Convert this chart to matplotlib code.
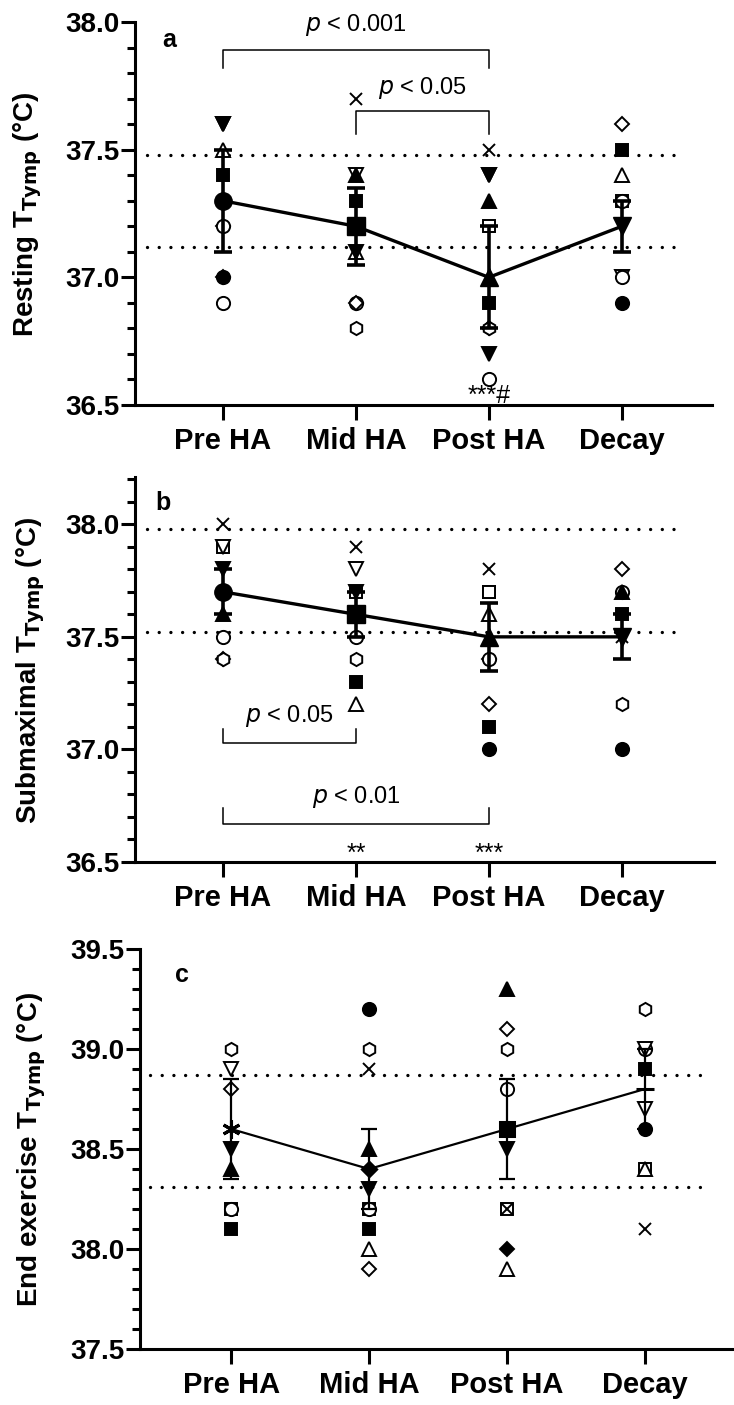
import numpy as np
import matplotlib.pyplot as plt
from matplotlib.ticker import MultipleLocator

plt.rcParams['font.family'] = ['Liberation Sans', 'DejaVu Sans']

groups = ["Pre HA", "Mid HA", "Post HA", "Decay"]

# ---- panel a: resting T_tymp ----
a_pts = [
    [37.6, 37.6, 37.5, 37.4, 37.2, 37.2, 37.0, 37.0, 36.9],
    [37.7, 37.4, 37.4, 37.3, 37.1, 37.1, 36.9, 36.9, 36.8],
    [37.5, 37.4, 37.4, 37.3, 37.2, 36.9, 36.8, 36.8, 36.7, 36.6],
    [37.6, 37.5, 37.4, 37.3, 37.3, 37.0, 37.0, 36.9],
]
a_mks = [
    ['ov', 'fv', 'o^', 'fs', 'oD', 'oo', 'fo', 'fD', 'oo'],
    ['x', 'ov', 'f^', 'fs', 'o^', 'fv', 'oo', 'oD', 'oh'],
    ['x', 'ov', 'fv', 'f^', 'os', 'fs', 'fD', 'oh', 'fv', 'oo'],
    ['oD', 'fs', 'o^', 'os', 'oo', 'ov', 'oo', 'fo'],
]
a_mean = [37.3, 37.2, 37.0, 37.2]
a_lo = [37.1, 37.05, 36.8, 37.1]
a_hi = [37.5, 37.35, 37.2, 37.3]
a_ref = [37.48, 37.12]

# ---- panel b: submaximal T_tymp ----
b_pts = [
    [38.0, 37.9, 37.9, 37.8, 37.6, 37.5, 37.4, 37.4],
    [37.9, 37.8, 37.7, 37.7, 37.5, 37.4, 37.3, 37.2],
    [37.8, 37.7, 37.7, 37.6, 37.4, 37.4, 37.2, 37.1, 37.0],
    [37.8, 37.7, 37.7, 37.6, 37.5, 37.2, 37.0],
]
b_mks = [
    ['x', 'os', 'ov', 'fv', 'f^', 'oo', 'oD', 'oh'],
    ['x', 'ov', 'os', 'fv', 'oo', 'oh', 'fs', 'o^'],
    ['x', 'fs', 'os', 'o^', 'oD', 'oo', 'oD', 'fs', 'fo'],
    ['oD', 'oo', 'f^', 'fs', 'x', 'oh', 'fo'],
]
b_mean = [37.7, 37.6, 37.5, 37.5]
b_lo = [37.6, 37.5, 37.35, 37.4]
b_hi = [37.8, 37.7, 37.65, 37.6]
b_ref = [37.98, 37.52]

# ---- panel c: end exercise T_tymp ----
c_pts = [
    [39.0, 38.9, 38.8, 38.5, 38.4, 38.2, 38.2, 38.1],
    [39.2, 39.0, 38.9, 38.5, 38.3, 38.2, 38.2, 38.1, 38.0, 37.9],
    [39.3, 39.1, 39.0, 38.8, 38.5, 38.2, 38.2, 38.0, 37.9],
    [39.2, 39.0, 39.0, 38.9, 38.7, 38.6, 38.4, 38.4, 38.1],
]
c_mks = [
    ['oh', 'ov', 'oD', 'fv', 'f^', 'os', 'oo', 'fs'],
    ['fo', 'oh', 'x', 'f^', 'fv', 'os', 'oo', 'fs', 'o^', 'oD'],
    ['f^', 'oD', 'oh', 'oo', 'fv', 'os', 'x', 'fD', 'o^'],
    ['oh', 'oo', 'ov', 'fs', 'ov', 'fo', 'os', 'o^', 'x'],
]
c_mean = [38.6, 38.4, 38.6, 38.8]
c_lo = [38.35, 38.2, 38.35, 38.6]
c_hi = [38.85, 38.6, 38.85, 39.0]
c_ref = [38.87, 38.31]

STYLE = {
    'fo': ('o', 9.5, True), 'fs': ('s', 8.5, True), 'f^': ('^', 9.5, True),
    'fv': ('v', 9.5, True), 'fD': ('D', 7, True),
    'oo': ('o', 9.5, False), 'os': ('s', 8.5, False), 'o^': ('^', 9.5, False),
    'ov': ('v', 9.5, False), 'oD': ('D', 7, False), 'oh': ('h', 9.5, False),
    'x': ('x', 8.5, False),
}


def draw_points(ax, pts, mks):
    for i, (vals, mk) in enumerate(zip(pts, mks)):
        for v, m in zip(vals, mk):
            shape, size, filled = STYLE[m]
            ax.plot(i, v, marker=shape, ms=size, mec='k', mew=1.4,
                    mfc='k' if filled else 'white', ls='none', zorder=3)


def style_axes(ax, ylo, yhi, xhi):
    ax.set_xlim(-0.66, xhi)
    ax.set_ylim(ylo, yhi)
    for s in ['top', 'right']:
        ax.spines[s].set_visible(False)
    for s in ['left', 'bottom']:
        ax.spines[s].set_linewidth(2.2)
    ax.set_xticks(range(4))
    ax.set_xticklabels(groups, fontsize=21, fontweight='bold')
    ax.yaxis.set_major_locator(MultipleLocator(0.5))
    ax.yaxis.set_minor_locator(MultipleLocator(0.1))
    ax.yaxis.set_major_formatter(plt.FormatStrFormatter('%.1f'))
    ax.tick_params(axis='y', which='major', length=10, width=2.2, pad=1,
                   labelsize=20)
    ax.tick_params(axis='y', which='minor', length=5.5, width=2.2)
    ax.tick_params(axis='x', length=11, width=2.2, pad=5)
    for t in ax.get_yticklabels():
        t.set_fontweight('bold')


def ref_lines(ax, levels, x0, x1):
    for y in levels:
        ax.plot([x0, x1], [y, y], color='k', lw=2.4,
                ls=(0, (0.01, 3.5)), dash_capstyle='round', zorder=1)


def bracket(ax, x0, x1, yb, yl, text, ty):
    ax.plot([x0, x0, x1, x1], [yl, yb, yb, yl], color='k', lw=1.1, zorder=2)
    ax.text((x0 + x1) / 2, ty, r'$\it{p}$ < ' + text, ha='center',
            va='center', fontsize=17)


fig = plt.figure(figsize=(7.34, 14.05), dpi=100)
W, H = 734, 1405
ax_a = fig.add_axes([135 / W, 1 - 405 / H, 577 / W, 383 / H])
ax_b = fig.add_axes([135 / W, 1 - 862 / H, 579 / W, 385 / H])
ax_c = fig.add_axes([140 / W, 1 - 1349 / H, 594 / W, 400 / H])

x = np.arange(4)

# panel a
ref_lines(ax_a, a_ref, -0.57, 3.41)
draw_points(ax_a, a_pts, a_mks)
ax_a.errorbar(x, a_mean, yerr=[np.subtract(a_mean, a_lo), np.subtract(a_hi, a_mean)],
              fmt='none', ecolor='k', elinewidth=2.6, capsize=6.5, capthick=2.6, zorder=4)
ax_a.plot(x, a_mean, color='k', lw=2.4, zorder=4)
for xi, m, mk in zip(x, a_mean, ['o', 's', '^', 'v']):
    ax_a.plot(xi, m, marker=mk, ms=12.5, color='k', zorder=5)
style_axes(ax_a, 36.5, 38.0, 3.677)
bracket(ax_a, 0, 2, 37.89, 37.82, '0.001', 37.99)
bracket(ax_a, 1, 2, 37.65, 37.56, '0.05', 37.74)
ax_a.text(2, 36.507, '***#', ha='center', va='baseline', fontsize=18)
ax_a.text(0.06, 0.953, 'a', transform=ax_a.transAxes, fontsize=18,
          fontweight='bold', ha='center', va='center')

# panel b
ref_lines(ax_b, b_ref, -0.57, 3.44)
draw_points(ax_b, b_pts, b_mks)
ax_b.errorbar(x, b_mean, yerr=[np.subtract(b_mean, b_lo), np.subtract(b_hi, b_mean)],
              fmt='none', ecolor='k', elinewidth=2.6, capsize=6.5, capthick=2.6, zorder=4)
ax_b.plot(x, b_mean, color='k', lw=2.4, zorder=4)
for xi, m, mk in zip(x, b_mean, ['o', 's', '^', 'v']):
    ax_b.plot(xi, m, marker=mk, ms=12.5, color='k', zorder=5)
style_axes(ax_b, 36.5, 38.21, 3.69)
bracket(ax_b, 0, 1, 37.03, 37.09, '0.05', 37.15)
bracket(ax_b, 0, 2, 36.67, 36.74, '0.01', 36.79)
ax_b.text(1, 36.507, '**', ha='center', va='baseline', fontsize=18)
ax_b.text(2, 36.507, '***', ha='center', va='baseline', fontsize=18)
ax_b.text(0.048, 0.932, 'b', transform=ax_b.transAxes, fontsize=18,
          fontweight='bold', ha='center', va='center')

# panel c
ref_lines(ax_c, c_ref, -0.59, 3.42)
draw_points(ax_c, c_pts, c_mks)
ax_c.errorbar(x, c_mean, yerr=[np.subtract(c_mean, c_lo), np.subtract(c_hi, c_mean)],
              fmt='none', ecolor='k', elinewidth=1.6, capsize=6, capthick=1.6, zorder=4)
ax_c.plot(x, c_mean, color='k', lw=1.6, zorder=4)
for xi, m, mk, sz in zip(x, c_mean, [(6, 2, 0), 'D', 's', '_'], [13, 7, 10, 13]):
    ax_c.plot(xi, m, marker=mk, ms=sz, color='k', mew=2.2, zorder=5)
style_axes(ax_c, 37.5, 39.5, 3.645)
ax_c.text(0.07, 0.935, 'c', transform=ax_c.transAxes, fontsize=18,
          fontweight='bold', ha='center', va='center')

# y labels
fig.text(28 / W, 1 - 214 / H, r'Resting T$_{\mathbf{Tymp}}$ (°C)', rotation=90,
         ha='center', va='center', fontsize=20, fontweight='bold')
fig.text(31 / W, 1 - 670 / H, r'Submaximal T$_{\mathbf{Tymp}}$ (°C)', rotation=90,
         ha='center', va='center', fontsize=20, fontweight='bold')
fig.text(32 / W, 1 - 1150 / H, r'End exercise T$_{\mathbf{Tymp}}$ (°C)', rotation=90,
         ha='center', va='center', fontsize=20, fontweight='bold')

fig.savefig('out.png', dpi=100)
